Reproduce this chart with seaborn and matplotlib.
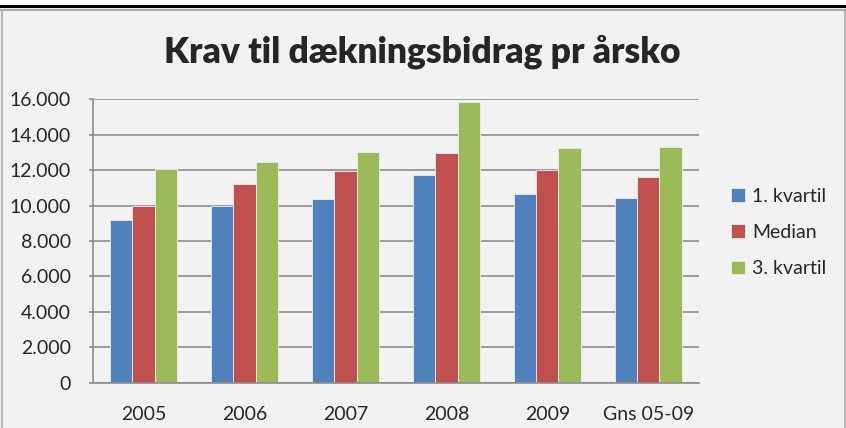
import pandas as pd
import matplotlib.pyplot as plt
import seaborn as sns
from matplotlib.lines import Line2D
from matplotlib.patches import Rectangle
from matplotlib.ticker import FuncFormatter

# Data
years = ['2005', '2006', '2007', '2008', '2009', 'Gns 05-09']
series = ['1. kvartil', 'Median', '3. kvartil']
kvartil1 = [9200, 10000, 10350, 11700, 10650, 10400]
median = [10000, 11200, 11950, 12980, 12030, 11630]
kvartil3 = [12050, 12440, 13000, 15850, 13230, 13300]
colors = ['#4F81BD', '#C0504D', '#9BBB59']

df = pd.DataFrame({'År': years * 3,
                   'Serie': [s for s in series for _ in years],
                   'Værdi': kvartil1 + median + kvartil3})

sns.set_style('white')
plt.rcParams['font.family'] = ['Lato', 'DejaVu Sans']

fig = plt.figure(figsize=(8.46, 4.28), dpi=100, facecolor='#F2F2F2')
ax = fig.add_axes([0.110, 0.106, 0.716, 0.662])
ax.set_facecolor('#F2F2F2')

sns.barplot(data=df, x='År', y='Værdi', hue='Serie', palette=colors, saturation=1,
            width=0.66, gap=0, ax=ax, edgecolor='#E8EEF4', linewidth=0.6)

ax.set_ylim(0, 16000)
ax.set_yticks(range(0, 16001, 2000))
ax.yaxis.set_major_formatter(FuncFormatter(lambda v, p: f'{int(v):,}'.replace(',', '.')))
ax.grid(axis='y', color='#8C8C8C', linewidth=1.2)
ax.set_axisbelow(True)
ax.set_xlabel('')
ax.set_ylabel('')
for side in ['top', 'right']:
    ax.spines[side].set_visible(False)
for side in ['left', 'bottom']:
    ax.spines[side].set_color('#8C8C8C')
    ax.spines[side].set_linewidth(1.2)
ax.tick_params(axis='y', left=True, length=3, width=1.2, color='#8C8C8C',
               labelsize=14, pad=13)
ax.tick_params(axis='x', bottom=False, labelsize=14, pad=13)

leg = ax.legend(loc='center left', bbox_to_anchor=(1.025, 0.53), frameon=False,
                fontsize=14, handlelength=0.7, handleheight=0.7,
                handletextpad=0.35, labelspacing=1.0)

fig.text(0.499, 0.880, 'Krav til dækningsbidrag pr årsko', ha='center', va='center',
         fontsize=25.5, fontweight='heavy')

# outer frame like the spreadsheet chart
fig.add_artist(Rectangle((0, 1 - 5 / 428), 1, 5 / 428, transform=fig.transFigure,
                         facecolor='white', edgecolor='none'))
fig.add_artist(Line2D([0, 1], [1 - 6 / 428] * 2, transform=fig.transFigure,
                      color='black', linewidth=2.2))
fig.add_artist(Line2D([0, 1], [1 - 9.5 / 428] * 2, transform=fig.transFigure,
                      color='#999999', linewidth=1.2))
fig.add_artist(Line2D([1.5 / 846] * 2, [0, 1 - 9.5 / 428], transform=fig.transFigure,
                      color='#AAAAAA', linewidth=1.2))
fig.add_artist(Line2D([1 - 1.5 / 846] * 2, [0, 1 - 9.5 / 428], transform=fig.transFigure,
                      color='#AAAAAA', linewidth=1.2))

fig.savefig('out.png', dpi=100, facecolor=fig.get_facecolor())
